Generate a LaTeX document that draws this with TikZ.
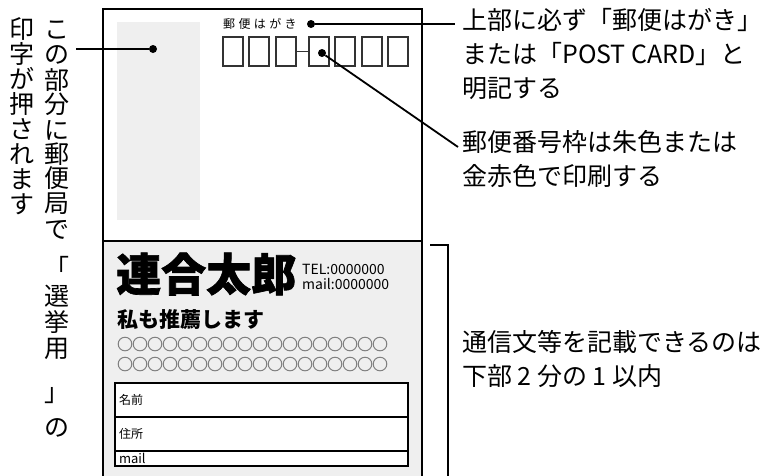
\documentclass[tikz,border=0pt]{standalone}
\usepackage{fontspec}
\setmainfont{Noto Sans CJK JP}
\usetikzlibrary{positioning}

\definecolor{paper}{HTML}{EFEFEF}
\definecolor{zipline}{HTML}{333333}

\begin{document}
\begin{tikzpicture}[x=1pt, y=-1pt,
    dot/.style={circle, fill=black, inner sep=0pt, minimum size=8pt},
    zipbox/.style={draw=zipline, line width=1.4pt, minimum width=20pt, minimum height=29pt, inner sep=0pt},
    vchar/.style={inner sep=0pt, font=\fontsize{25}{25}\selectfont, text height=22pt, text depth=3pt},
    note/.style={inner sep=0pt, align=left, anchor=north west, font=\fontsize{25}{34}\selectfont},
    formrow/.style={draw, line width=1.2pt, fill=white, outer sep=0pt, anchor=north west,
      minimum width=293pt, text width=285pt, inner xsep=4pt, inner ysep=0pt, align=left}]

  \useasboundingbox (0,0) rectangle (783,475);

  % postcard
  \fill[paper] (103,241) rectangle (422,480);
  \fill[paper] (117,22) rectangle (200,220);
  \draw[line width=2pt] (103,480) -- (103,9) -- (422,9) -- (422,480);
  \draw[line width=2pt] (103,241) -- (422,241);

  % top of the card
  \node[anchor=west, inner sep=0pt, font=\fontsize{12}{12}\selectfont\addfontfeature{LetterSpace=28}] (hagaki) at (223,24) {郵便はがき};
  \foreach \i/\x in {1/223,2/249,3/276,4/309,5/335,6/362,7/388}{
    \node[zipbox] (z\i) at (\x+10,51.5) {};
  }
  \draw[line width=1.4pt, zipline] (z3.east) -- (z4.west);

  \node[dot] (dotA) at (311,24) {};
  \node[dot] (dotB) at (322,53) {};
  \node[dot] (dotC) at (153,49) {};

  % notes on the right
  \node[note] (noteA) at (462,8) {上部に必ず「郵便はがき」\\または「POST CARD」と\\明記する};
  \node[note] (noteB) at (462,130) {郵便番号枠は朱色または\\金赤色で印刷する};
  \node[note] (noteC) at (462,330) {通信文等を記載できるのは\\下部 2 分の 1 以内};

  \draw[line width=1.8pt, shorten >=7pt] (dotA) -- (dotA -| noteA.west);
  \draw[line width=1.8pt] (dotB) -- ([xshift=-4pt,yshift=-17pt]noteB.north west);
  \draw[line width=1.8pt] (430,245) -- (448,245) -- (448,480);

  % vertical note on the left
  \coordinate (stampEnd) at (76,49);
  \draw[line width=1.8pt] (stampEnd) -- (dotC);
  \foreach \ch/\yy [count=\n] in {こ/29,の/54,部/80,分/104,に/130,郵/154,便/178,局/203,で/229,「/268,選/296,挙/322,用/348,」/392,の/427}{
    \node[vchar] (r\n) at (57,\yy) {\ch};
  }
  \foreach \ch/\yy [count=\n] in {印/29,字/54,が/79,押/104,さ/129,れ/154,ま/179,す/204}{
    \node[vchar] (l\n) at (22,\yy) {\ch};
  }

  % message side
  \node[anchor=west, inner sep=0pt, font=\fontsize{45}{45}\selectfont\bfseries\addfontfeature{FakeBold=1.5}] (name) at (116,274) {連合太郎};
  \node[anchor=north west, inner sep=0pt, align=left, font=\fontsize{14}{15}\selectfont] (tel) at (302,264) {TEL:0000000\\mail:0000000};
  \node[anchor=west, inner sep=0pt, font=\fontsize{21}{21}\selectfont\bfseries] (slogan) at (117,320) {私も推薦します};
  \foreach \row in {344,364}{
    \foreach \k in {0,...,17}
      \draw[black!50, line width=1pt] (125+15*\k,\row) circle[radius=6.8pt];
  }
  \node[formrow, minimum height=34pt, font=\fontsize{12}{12}\selectfont] (fname) at (115,383) {名前};
  \node[formrow, minimum height=34pt, font=\fontsize{12}{12}\selectfont, below=0pt of fname] (faddr) {住所};
  \node[formrow, minimum height=15pt, font=\fontsize{13}{13}\selectfont, below=0pt of faddr] (fmail) {mail};
\end{tikzpicture}
\end{document}
